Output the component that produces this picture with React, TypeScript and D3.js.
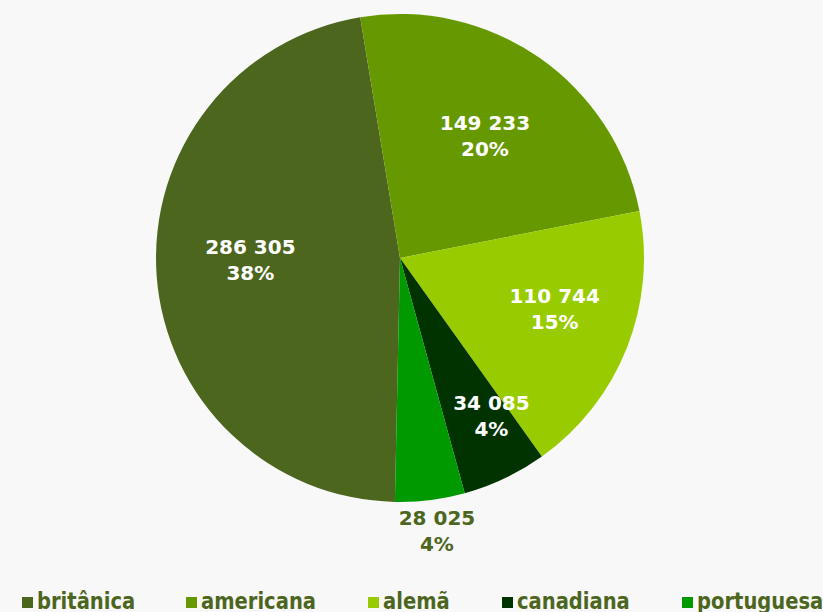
import React from "react";
import * as d3 from "d3";

const categories = ["britânica", "americana", "alemã", "canadiana", "portuguesa"];
const values = [286305, 149233, 110744, 34085, 28025];
const valueLabels = ["286 305", "149 233", "110 744", "34 085", "28 025"];
const percentLabels = ["38%", "20%", "15%", "4%", "4%"];
const colors = ["#4C661E", "#669900", "#99CC00", "#003300", "#009900"];
const legendX = [22, 186, 368, 502, 682];
const labelRadius = [150, 149, 160, 180, 275];
const labelDx = [0, 0, 6, 14, 3];
const labelDy = [-9, 0, -8, -5, 0];

const W = 823;
const H = 612;
const cx = 400;
const cy = 258;
const R = 244;
const startDeg = 181.2;

export default function App() {
  const pie = d3
    .pie<number>()
    .sort(null)
    .value((d) => d)
    .startAngle((startDeg * Math.PI) / 180)
    .endAngle((startDeg * Math.PI) / 180 + 2 * Math.PI);
  const arcs = pie(values);
  const arc = d3.arc<d3.PieArcDatum<number>>().innerRadius(0).outerRadius(R);
  return (
    <svg
      width={W}
      height={H}
      style={{ position: "absolute", left: 0, top: 0, background: "#F8F8F8" }}
    >
      <rect x={0} y={0} width={W} height={H} fill="#F8F8F8" />
      <g transform={`translate(${cx},${cy})`}>
        {arcs.map((a, i) => (
          <path key={i} d={arc(a) || ""} fill={colors[i]} />
        ))}
        {arcs.map((a, i) => {
          const la = d3
            .arc<d3.PieArcDatum<number>>()
            .innerRadius(labelRadius[i])
            .outerRadius(labelRadius[i]);
          const [x0, y0] = la.centroid(a);
          const x = x0 + labelDx[i];
          const y = y0 + labelDy[i];
          const outside = i === 4;
          return (
            <text
              key={"l" + i}
              x={x}
              y={y}
              textAnchor="middle"
              fontFamily="DejaVu Sans, Verdana, sans-serif"
              fontWeight="bold"
              fontSize={20}
              fill={outside ? "#4C661E" : "#FFFFFF"}
            >
              <tspan x={x} dy="-0.3em">{valueLabels[i]}</tspan>
              <tspan x={x} dy="1.3em">{percentLabels[i]}</tspan>
            </text>
          );
        })}
      </g>
      <g>
        {categories.map((c, i) => (
          <g key={c}>
            <rect x={legendX[i]} y={597} width={11} height={11} fill={colors[i]} />
            <text
              transform={`translate(${legendX[i] + 15},609) scale(0.85,1)`}
              fontFamily="DejaVu Sans, sans-serif"
              fontWeight="bold"
              fontSize={23}
              fill="#4C661E"
            >
              {c}
            </text>
          </g>
        ))}
      </g>
    </svg>
  );
}
